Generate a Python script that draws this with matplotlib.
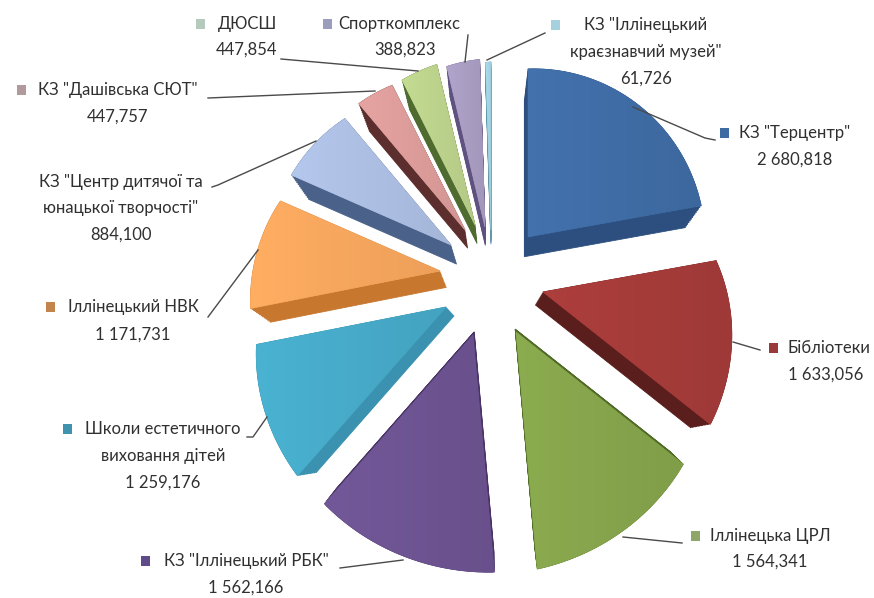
import numpy as np
import matplotlib
matplotlib.use('Agg')
import matplotlib.pyplot as plt
from matplotlib.colors import LinearSegmentedColormap, to_rgb
from matplotlib.patches import Polygon, Rectangle

plt.rcParams['font.family'] = ['Lato', 'Noto Sans', 'DejaVu Sans']

names = ['КЗ "Терцентр"', 'Бібліотеки', 'Іллінецька ЦРЛ', 'КЗ "Іллінецький РБК"',
         'Школи естетичного\nвиховання дітей', 'Іллінецький НВК',
         'КЗ "Центр дитячої та\nюнацької творчості"', 'КЗ "Дашівська СЮТ"',
         'ДЮСШ', 'Спорткомплекс', 'КЗ "Іллінецький\nкраєзнавчий музей"']
values = [2680.818, 1633.056, 1564.341, 1562.166, 1259.176, 1171.731,
          884.100, 447.757, 447.854, 388.823, 61.726]
value_labels = ['2 680,818', '1 633,056', '1 564,341', '1 562,166', '1 259,176', '1 171,731',
                '884,100', '447,757', '447,854', '388,823', '61,726']

top_colors = ['#3f6ba3', '#a33b39', '#84a24b', '#6c5390', '#46a8c6', '#f5a45c',
              '#aabcdf', '#d99a98', '#b9cf8a', '#a79bc0', '#9fd0e0']
side_colors = ['#2c4f80', '#5a1e1c', '#4f6b26', '#4a3566', '#3a92b0', '#c8772f',
               '#4a6189', '#5c2f2e', '#4f6b30', '#5f5280', '#5f96a8']
key_colors = ['#3f6ba3', '#983a3c', '#8fa66a', '#5f4a8a', '#3f93ad', '#c4854c',
              '#aabcdf', '#b09a9c', '#b5cabd', '#9c9cbc', '#a5d0de']

# where each exploded slice has its point, in pixels
apex = [(528, 237), (543, 292), (516, 332), (473, 335), (446, 307), (440, 271),
        (451, 245), (465, 230), (475, 225), (485, 227), (491, 230)]
# extra shift of the back face
depth = [(-1, 16), (-4, 13), (1, 0), (0, 0), (5, 10), (3, 15),
         (3, 16), (1, 14), (1, 14), (0, 14), (0, 10)]
vanish = np.array([490, 290])
k = 0.07

# perspective: radius by direction, clockwise from 12 o'clock
dir_deg = [0, 80, 128, 175, 221, 259, 294, 320, 333, 347, 360]
dir_rad = [168, 176, 213, 238, 225, 193, 174, 165, 162, 165, 168]

# label layout: x centre, y of the first line, line step, key x, x of the name when it differs
label_pos = [(795, 133, 27, 724), (826, 348, 27, 773), (770, 536, 26, 695), (246, 561, 27, 145),
             (163, 429, 27, 67), (133, 307, 28, 50), (121, 182, 26.5, None), (118, 90, 27, 21),
             (247, 24, 26, 200), (405, 24, 26, 327), (646, 25, 27, 555)]
name_x = {1: 829, 9: 399}

leaders = [[(633, 107), (705, 138), (715, 140)],
           [(733, 342), (760, 350)],
           [(623, 537), (682, 543)],
           [(340, 568), (403, 560)],
           [(247, 437), (253, 437), (267, 417)],
           [(208, 317), (258, 250)],
           [(212, 187), (218, 185), (316, 141)],
           [(208, 98), (375, 91)],
           [(281, 59), (418, 71)],
           [(468, 35), (465, 62)],
           [(487, 60), (545, 33)]]

fig = plt.figure(figsize=(8.74, 5.98), dpi=100)
ax = fig.add_axes([0, 0, 1, 1])
wedges, _ = ax.pie(values, startangle=90, counterclock=False)
ax.set_aspect('auto')
ax.axis('off')

for i, w in enumerate(wedges):
    w.set_visible(False)
    t = np.linspace(w.theta1, w.theta2, 80)
    phi = (90 - t) % 360
    if i == 0:
        phi = 90 - t
    r = np.interp(phi, dir_deg, dir_rad)
    a = np.array(apex[i], dtype=float)
    rim = np.column_stack([a[0] + r * np.sin(np.radians(phi)), a[1] - r * np.cos(np.radians(phi))])
    face = np.vstack([a, rim])
    back = face + k * (vanish - face) + np.array(depth[i])

    for s in np.linspace(1, 0, 14):
        ax.add_patch(Polygon(face + s * (back - face), closed=True, fc=side_colors[i],
                             ec=side_colors[i], lw=0.6, zorder=2))

    top = Polygon(face, closed=True, fc=top_colors[i], ec=top_colors[i], lw=0.5, zorder=3)
    ax.add_patch(top)
    base = np.array(to_rgb(top_colors[i]))
    cmap = LinearSegmentedColormap.from_list('g', [np.clip(base * 1.06, 0, 1), np.clip(base * 0.97, 0, 1)])
    im = ax.imshow(np.linspace(0, 1, 64).reshape(1, -1), cmap=cmap, aspect='auto', zorder=3.5,
                   extent=[face[:, 0].min(), face[:, 0].max(), face[:, 1].max(), face[:, 1].min()])
    im.set_clip_path(top)

ax.set_xlim(0, 874)
ax.set_ylim(598, 0)

for i, name in enumerate(names):
    x, y, step, key = label_pos[i]
    lines = name.split('\n')
    for j, line in enumerate(lines):
        ax.text(name_x.get(i, x), y + j * step, line, ha='center', va='center', fontsize=12,
                color='#303030', zorder=6)
    ax.text(x, y + len(lines) * step, value_labels[i], ha='center', va='center', fontsize=12,
            color='#303030', zorder=6)
    if key is not None:
        ax.add_patch(Rectangle((key - 4.5, y - 5), 9, 10, fc=key_colors[i], ec='none', zorder=6))
    pts = np.array(leaders[i])
    ax.plot(pts[:, 0], pts[:, 1], color='#4a4a4a', lw=1.0, zorder=5)

fig.savefig('out.png', dpi=100)
